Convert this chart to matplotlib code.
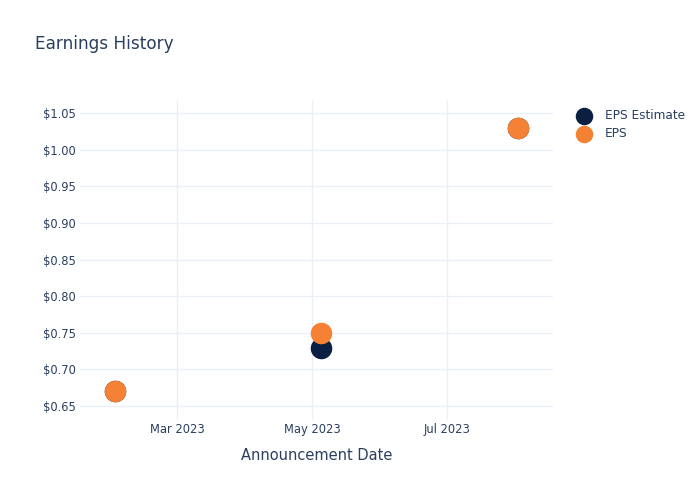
import matplotlib
matplotlib.use("Agg")
import matplotlib.pyplot as plt
import matplotlib.dates as mdates
import numpy as np

# data
dates = np.array(["2023-02-01", "2023-05-05", "2023-08-02"], dtype="datetime64[D]")
eps_estimate = [0.67, 0.73, 1.03]
eps_actual = [0.67, 0.75, 1.03]
y_ticks = [0.65, 0.70, 0.75, 0.80, 0.85, 0.90, 0.95, 1.00, 1.05]

text_color = "#2a3f5f"
grid_color = "#ebf0f8"

fig = plt.figure(figsize=(7, 5), dpi=100)
ax = fig.add_axes([80/700, 80/500, 473/700, 320/500])

ax.scatter(dates, eps_estimate, s=210, color="#0b1f42", label="EPS Estimate", zorder=3)
ax.scatter(dates, eps_actual, s=210, color="#f58134", label="EPS", zorder=4)

ax.set_xlim(np.datetime64("2023-01-16"), np.datetime64("2023-08-18"))
ax.set_ylim(0.631, 1.068)
ax.set_yticks(y_ticks)
ax.set_yticklabels([f"${v:.2f}" for v in y_ticks])
ax.xaxis.set_major_locator(mdates.MonthLocator(bymonth=[3, 5, 7]))
ax.xaxis.set_major_formatter(mdates.DateFormatter("%b %Y"))

ax.grid(True, color=grid_color, linewidth=1)
ax.set_axisbelow(True)
for s in ax.spines.values():
    s.set_visible(False)
ax.tick_params(length=0, labelsize=8.3, colors=text_color)
ax.tick_params(axis="y", pad=3)
ax.tick_params(axis="x", pad=2)

ax.set_xlabel("Announcement Date", fontsize=10.5, color=text_color, labelpad=9)
fig.text(35/700, 1 - 44/500, "Earnings History", fontsize=12.2, color=text_color, va="center")

leg = ax.legend(loc="upper left", bbox_to_anchor=(1.017, 1.006), frameon=False,
                fontsize=8.7, handletextpad=0.75, labelspacing=0.45, markerscale=0.8)
for t in leg.get_texts():
    t.set_color(text_color)

fig.savefig("out.png", dpi=100)
